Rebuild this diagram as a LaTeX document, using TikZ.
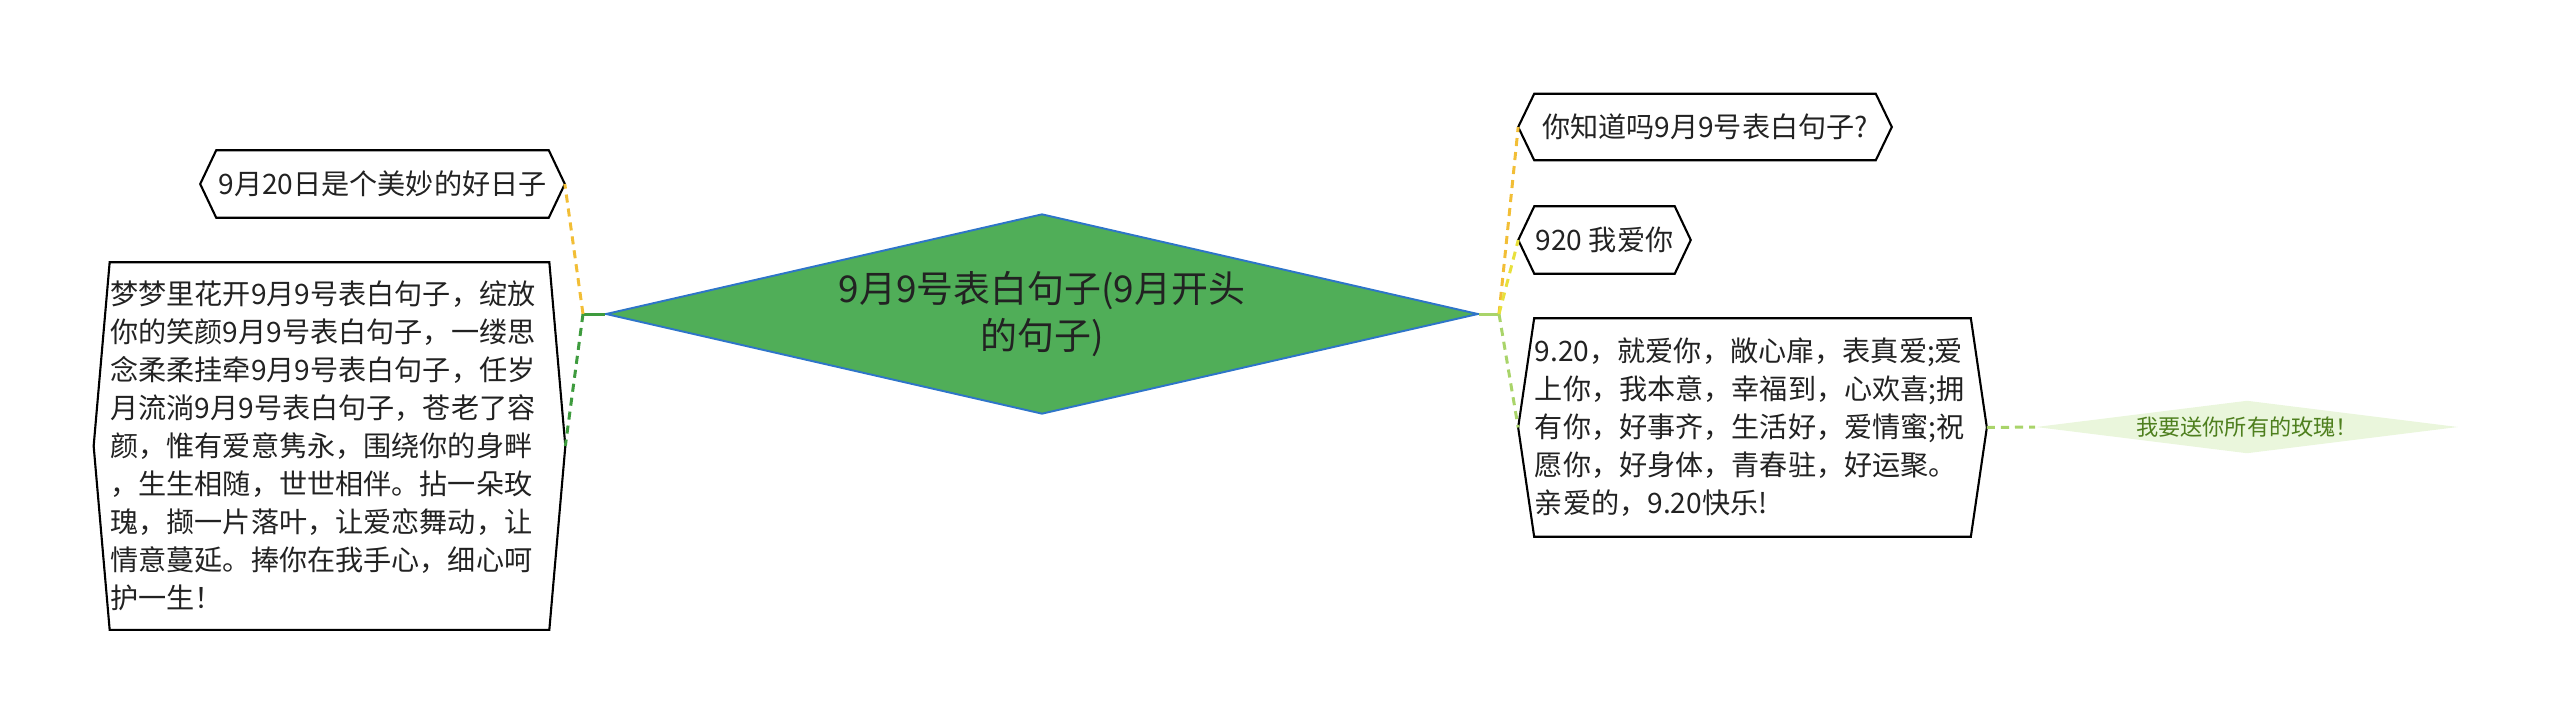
\documentclass[tikz,border=0pt]{standalone}
\usepackage{fontspec}
\setmainfont{Noto Sans CJK SC}
\usetikzlibrary{calc, positioning, shapes}
\definecolor{centregreen}{HTML}{50AE58}
\definecolor{centreblue}{HTML}{2E75C8}
\definecolor{darkgreen}{HTML}{3E9B3E}
\definecolor{lightgreen}{HTML}{A9D46A}
\definecolor{ambery}{HTML}{F2BE36}
\definecolor{lemony}{HTML}{E8E03C}
\definecolor{rosefill}{HTML}{EAF6DC}
\definecolor{rosetext}{HTML}{4E7F1E}
\definecolor{inkgray}{HTML}{222222}
\tikzset{
    centre/.style={
        diamond, aspect=4.36, draw=centreblue, line width=0.55pt, fill=centregreen,
        minimum width=8.72cm, minimum height=2.0cm, inner sep=0pt,
        align=center, text=inkgray, font=\fontsize{10.5pt}{13.4pt}\selectfont
    },
    hexbox/.style={
        inner xsep=0.16cm, inner ysep=0pt, text=inkgray,
        font=\fontsize{8pt}{10.8pt}\selectfont
    },
    hexline/.style={draw=black, line width=0.6pt, line join=miter},
    leaf/.style={
        diamond, aspect=8, fill=rosefill, draw=none, inner sep=0pt,
        minimum width=4.22cm, minimum height=0.53cm,
        text=rosetext, font=\fontsize{6.3pt}{7pt}\selectfont
    },
    trunk/.style={draw=#1, line width=0.85pt},
    link/.style={draw=#1, line width=0.85pt, dash pattern=on 2.3pt off 1.7pt}
}
\begin{document}
\begin{tikzpicture}[x=0.01cm, y=-0.01cm]
    \def \dep {0.16cm}
    \useasboundingbox (0,0) rectangle (2560,724);
    \coordinate (jl) at (583, 314);
    \coordinate (jr) at (1499, 314);
    \node[centre] (c) at (1042, 314) {9月9号表白句子(9月开头\\的句子)};
    % left side
    \node[hexbox, minimum width=3.63cm, minimum height=0.66cm] (a) at (382.5, 184) {9月20日是个美妙的好日子};
    \node[hexbox, text width=4.38cm, minimum height=3.66cm, align=left] (b) at (329.5, 446)
        {梦梦里花开9月9号表白句子，绽放\\你的笑颜9月9号表白句子，一缕思\\念柔柔挂牵9月9号表白句子，任岁\\月流淌9月9号表白句子，苍老了容\\颜，惟有爱意隽永，围绕你的身畔\\，生生相随，世世相伴。拈一朵玫\\瑰，撷一片落叶，让爱恋舞动，让\\情意蔓延。捧你在我手心，细心呵\\护一生！};
    % right side
    \node[hexbox, minimum width=3.72cm, minimum height=0.65cm] (p) at (1705, 127) {你知道吗9月9号表白句子?};
    \node[hexbox, minimum width=1.71cm, minimum height=0.66cm] (q) at (1604.5, 240) {920 我爱你};
    \node[hexbox, text width=4.35cm, minimum height=2.17cm, align=left] (r) at (1752.5, 427.5)
        {9.20，就爱你，敞心扉，表真爱;爱\\上你，我本意，幸福到，心欢喜;拥\\有你，好事齐，生活好，爱情蜜;祝\\愿你，好身体，青春驻，好运聚。\\亲爱的，9.20快乐!};
    \node[leaf] (s) at (2247, 427) {我要送你所有的玫瑰！};
    \foreach \n in {a,b,p,q,r}
        \draw[hexline] ([xshift=\dep]\n.north west) -- ([xshift=-\dep]\n.north east) -- (\n.east)
            -- ([xshift=-\dep]\n.south east) -- ([xshift=\dep]\n.south west) -- (\n.west) -- cycle;
    \draw[trunk=darkgreen] (c.west) -- (jl);
    \draw[link=ambery] (jl) -- (a.east);
    \draw[link=darkgreen] (jl) -- (b.east);
    \draw[trunk=lightgreen] (c.east) -- (jr);
    \draw[link=ambery] (jr) -- (p.west);
    \draw[link=lemony] (jr) -- (q.west);
    \draw[link=lightgreen] (jr) -- (r.west);
    \draw[link=lightgreen] (r.east) -- (s.west);
\end{tikzpicture}
\end{document}
